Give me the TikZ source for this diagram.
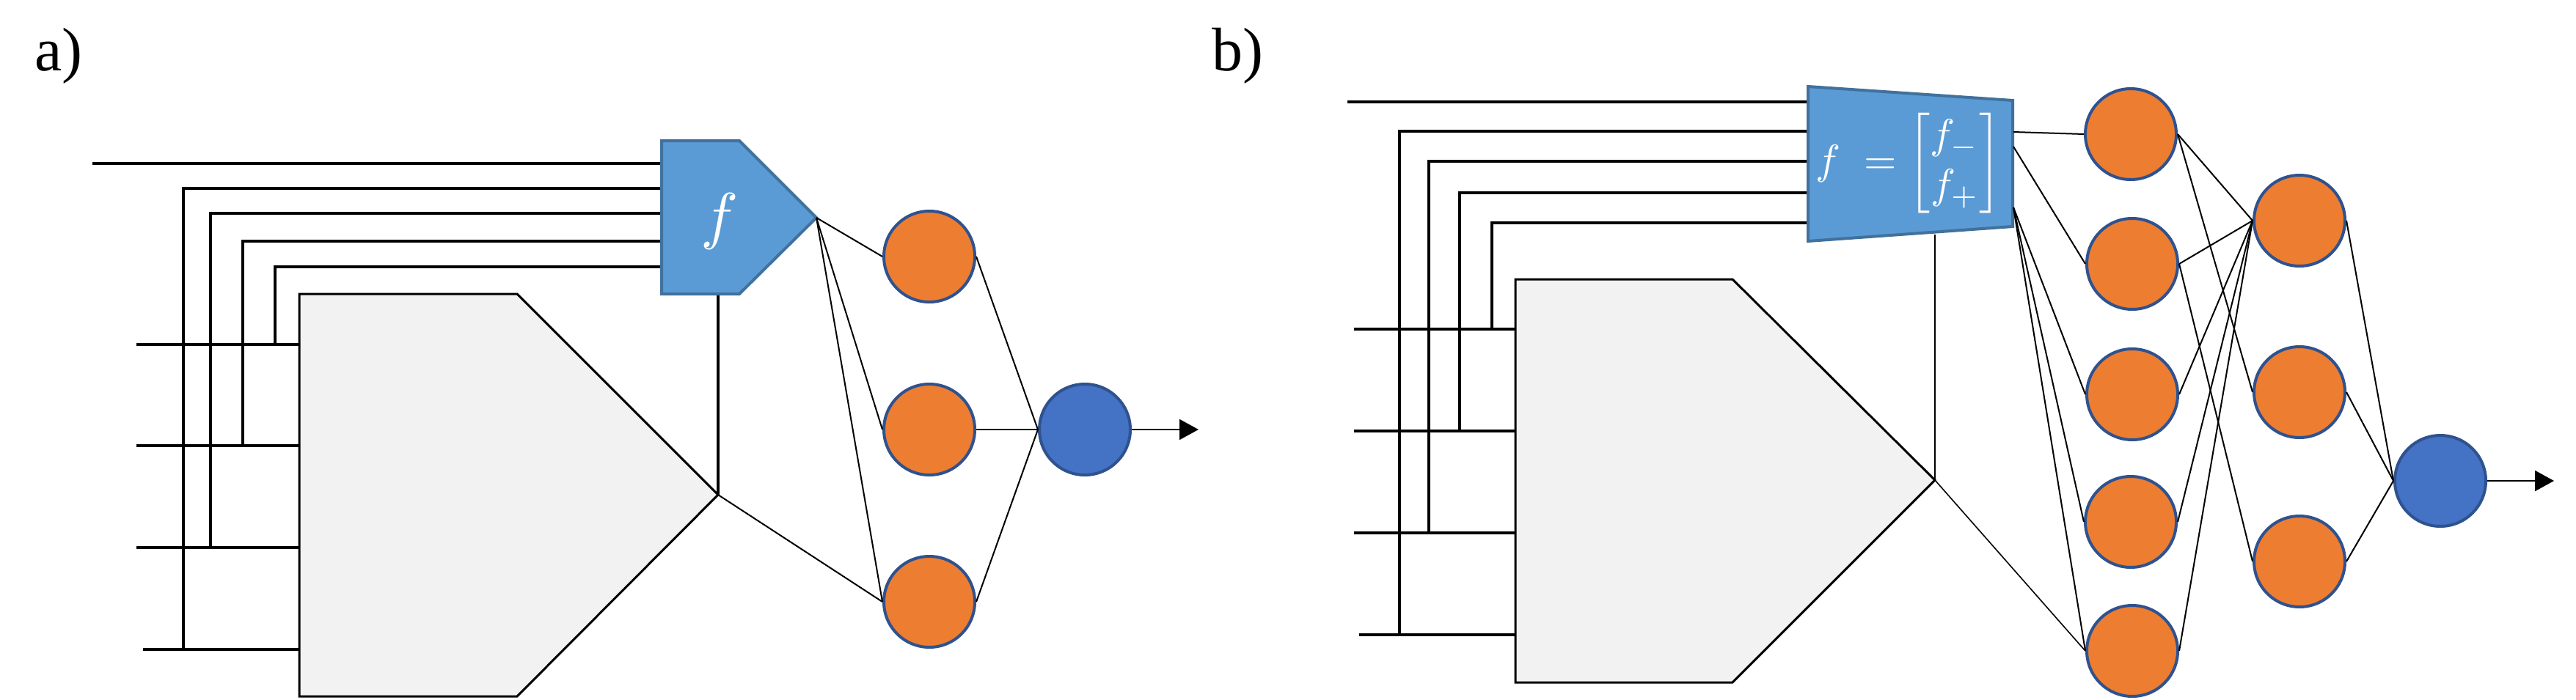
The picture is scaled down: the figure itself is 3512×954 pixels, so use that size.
\documentclass[tikz,border=0pt]{standalone}
\usepackage{amsmath}
\usepackage{graphicx}
\usepackage[no-math]{fontspec}
\setmainfont{Liberation Serif}
\usetikzlibrary{arrows.meta}
\definecolor{norange}{HTML}{ED7D31}
\definecolor{nborder}{HTML}{2F528F}
\definecolor{nblue}{HTML}{4472C4}
\definecolor{fblue}{HTML}{5B9BD5}
\definecolor{fborder}{HTML}{41719C}
\definecolor{gfill}{HTML}{F2F2F2}
\begin{document}
\begin{tikzpicture}[x=1pt,y=-1pt,
  wire/.style={line width=3.3pt},
  link/.style={line width=2pt},
  thinlink/.style={line width=1.6pt},
  neuron/.style={circle,draw=nborder,line width=4pt,fill=norange,minimum size=124pt,inner sep=0pt},
  outneuron/.style={neuron,fill=nblue},
  blockshape/.style={fill=fblue,draw=fborder,line width=4pt,line join=miter},
  grayshape/.style={fill=gfill,draw=black,line width=3pt},
  lbl/.style={font=\fontsize{84}{90}\selectfont,anchor=base west,inner sep=0pt},
  arrowtip/.style={-{Triangle[length=26pt,width=28pt]}}]
\useasboundingbox (0,0) rectangle (3512,954);

% ---------------- panel a ----------------
\node[lbl] (la) at (47,96) {a)};
\draw[wire] (126,223) -- (902,223);
\draw[wire] (250,886) -- (250,257) -- (902,257);
\draw[wire] (287,747) -- (287,291) -- (902,291);
\draw[wire] (331,608) -- (331,329) -- (902,329);
\draw[wire] (375,470) -- (375,364) -- (902,364);
\foreach \y in {470,608,747} \draw[wire] (186,\y) -- (408,\y);
\draw[wire] (195,886) -- (408,886);

\draw[grayshape] (408,401) -- (705,401) -- (979,675) -- (705,950) -- (408,950) -- cycle;
\coordinate (gtipA) at (979,675);
\draw[wire] (979,403) -- (gtipA);
\draw[blockshape] (902,192) -- (1008,192) -- (1113,297) -- (1008,401) -- (902,401) -- cycle;
\coordinate (ftipA) at (1113,297);
\node[text=white] (fa) at (981,302) {\scalebox{8.6}{$f$}};

\node[neuron] (a1) at (1267,350) {};
\node[neuron] (a2) at (1267,586) {};
\node[neuron] (a3) at (1267,821) {};
\node[outneuron] (aout) at (1479,586) {};
\coordinate (aend) at (1634,586);
\foreach \n in {a1,a2,a3} \draw[link] (ftipA) -- (\n.west);
\draw[link] (gtipA) -- (a3.west);
\foreach \n in {a1,a2,a3} \draw[link] (\n.east) -- (aout.west);
\draw[link,arrowtip] (aout.east) -- (aend);

% ---------------- panel b ----------------
\node[lbl] (lb) at (1652,96) {b)};
\draw[wire] (1837,139) -- (2465,139);
\draw[wire] (1908,866) -- (1908,179) -- (2465,179);
\draw[wire] (1948,727) -- (1948,220) -- (2465,220);
\draw[wire] (1990,588) -- (1990,263) -- (2465,263);
\draw[wire] (2034,449) -- (2034,304) -- (2465,304);
\foreach \y in {449,588,727} \draw[wire] (1846,\y) -- (2066,\y);
\draw[wire] (1853,866) -- (2066,866);

\draw[grayshape] (2066,381) -- (2362,381) -- (2638,655) -- (2362,931) -- (2066,931) -- cycle;
\coordinate (gtipB) at (2638,655);
\draw[link] (2638,320) -- (gtipB);
\draw[blockshape] (2465,118) -- (2744,137) -- (2744,309) -- (2465,329) -- cycle;
\node[text=white] (fb) at (2602,223)
  {\scalebox{5.7}{$f\;=\begin{bmatrix} f_- \\ f_+ \end{bmatrix}$}};
\coordinate (o1) at (2745,180);
\coordinate (o2) at (2745,200);
\coordinate (o3) at (2745,283);

\node[neuron] (b1) at (2905,183) {};
\node[neuron] (b2) at (2907,360) {};
\node[neuron] (b3) at (2907,538) {};
\node[neuron] (b4) at (2905,712) {};
\node[neuron] (b5) at (2907,888) {};
\node[neuron] (c1) at (3135,301) {};
\node[neuron] (c2) at (3135,535) {};
\node[neuron] (c3) at (3135,766) {};
\node[outneuron] (bout) at (3327,656) {};
\coordinate (bend) at (3482,656);

\draw[link] (o1) -- (b1.west);
\draw[link] (o2) -- (b2.west);
\foreach \n in {b3,b4,b5} \draw[link] (o3) -- (\n.west);
\draw[thinlink] (gtipB) -- (b5.west);
\foreach \n in {b1,b2,b3,b4,b5} \draw[link] (\n.east) -- (c1.west);
\draw[link] (b1.east) -- (c2.west);
\draw[link] (b2.east) -- (c3.west);
\foreach \n in {c1,c2,c3} \draw[link] (\n.east) -- (bout.west);
\draw[link,arrowtip] (bout.east) -- (bend);
\end{tikzpicture}
\end{document}
